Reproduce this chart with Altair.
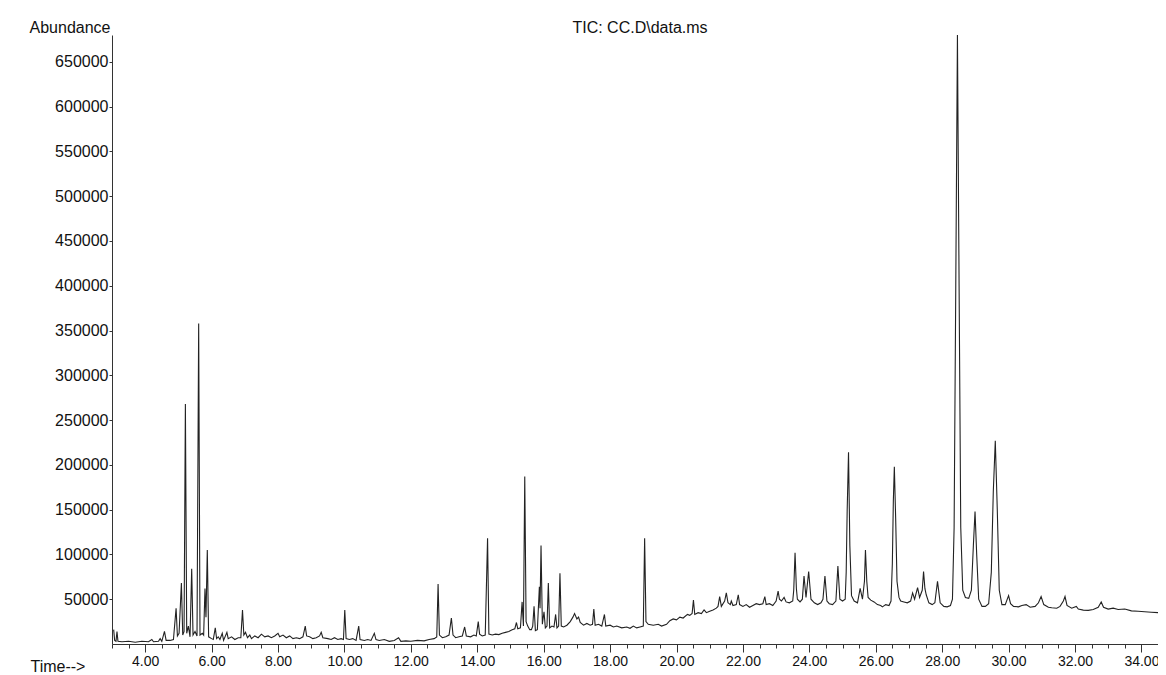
import altair as alt
import pandas as pd

# Retention time (min) and abundance
times = [
    3.05, 3.08, 3.12, 3.15, 3.18, 3.30, 3.50, 3.70, 3.90, 4.10, 4.20, 4.25, 4.40, 4.45, 4.50,
    4.58, 4.63, 4.75, 4.85, 4.93, 4.97, 5.02, 5.09, 5.13, 5.17, 5.21, 5.25, 5.30, 5.35, 5.40,
    5.44, 5.50, 5.56, 5.61, 5.65, 5.72, 5.76, 5.80, 5.83, 5.87, 5.91, 6.00, 6.05, 6.11, 6.15,
    6.20, 6.25, 6.32, 6.36, 6.46, 6.50, 6.60, 6.70, 6.80, 6.88, 6.93, 6.97, 7.02, 7.08, 7.15,
    7.20, 7.30, 7.40, 7.50, 7.60, 7.70, 7.80, 7.90, 8.00, 8.05, 8.15, 8.25, 8.35, 8.45, 8.55,
    8.65, 8.75, 8.82, 8.86, 8.95, 9.05, 9.15, 9.25, 9.30, 9.35, 9.50, 9.60, 9.70, 9.80, 9.90,
    9.97, 10.01, 10.05, 10.15, 10.25, 10.35, 10.43, 10.47, 10.60, 10.70, 10.80, 10.90, 10.95,
    11.05, 11.20, 11.35, 11.50, 11.63, 11.70, 11.85, 12.00, 12.20, 12.40, 12.55, 12.70, 12.78,
    12.82, 12.86, 12.95, 13.05, 13.15, 13.22, 13.27, 13.35, 13.45, 13.55, 13.62, 13.67, 13.80,
    13.90, 13.97, 14.03, 14.07, 14.15, 14.24, 14.31, 14.35, 14.45, 14.55, 14.65, 14.75, 14.85,
    14.95, 15.05, 15.13, 15.18, 15.22, 15.30, 15.35, 15.39, 15.43, 15.47, 15.52, 15.58, 15.63,
    15.67, 15.71, 15.75, 15.81, 15.87, 15.89, 15.92, 15.96, 16.01, 16.05, 16.10, 16.14, 16.18,
    16.25, 16.31, 16.36, 16.40, 16.45, 16.49, 16.53, 16.60, 16.70, 16.80, 16.88, 16.93, 17.00,
    17.05, 17.10, 17.20, 17.30, 17.40, 17.47, 17.51, 17.55, 17.65, 17.75, 17.83, 17.87, 18.00,
    18.10, 18.20, 18.35, 18.50, 18.60, 18.70, 18.80, 18.90, 19.00, 19.04, 19.08, 19.15, 19.30,
    19.45, 19.55, 19.70, 19.80, 19.90, 20.00, 20.10, 20.20, 20.33, 20.40, 20.47, 20.51, 20.55,
    20.65, 20.75, 20.83, 20.90, 21.00, 21.10, 21.20, 21.25, 21.30, 21.35, 21.45, 21.50, 21.55,
    21.62, 21.65, 21.70, 21.80, 21.86, 21.90, 22.00, 22.10, 22.20, 22.30, 22.40, 22.50, 22.60,
    22.66, 22.70, 22.80, 22.90, 23.00, 23.06, 23.10, 23.16, 23.24, 23.30, 23.40, 23.50, 23.53,
    23.57, 23.61, 23.64, 23.72, 23.79, 23.84, 23.90, 23.98, 24.05, 24.15, 24.25, 24.35, 24.41,
    24.47, 24.53, 24.60, 24.70, 24.80, 24.86, 24.92, 25.00, 25.08, 25.11, 25.14, 25.18, 25.22,
    25.27, 25.35, 25.45, 25.53, 25.60, 25.66, 25.69, 25.73, 25.77, 25.85, 25.95, 26.05, 26.15,
    26.20, 26.30, 26.40, 26.46, 26.50, 26.53, 26.56, 26.60, 26.64, 26.70, 26.75, 26.85, 26.95,
    27.05, 27.11, 27.17, 27.26, 27.32, 27.40, 27.44, 27.48, 27.52, 27.60, 27.70, 27.78, 27.86,
    27.94, 28.05, 28.15, 28.25, 28.31, 28.36, 28.41, 28.46, 28.51, 28.56, 28.62, 28.70, 28.80,
    28.88, 28.94, 28.99, 29.04, 29.10, 29.20, 29.30, 29.40, 29.48, 29.54, 29.60, 29.66, 29.72,
    29.80, 29.90, 30.00, 30.06, 30.15, 30.30, 30.40, 30.53, 30.65, 30.80, 30.90, 30.98, 31.06,
    31.20, 31.30, 31.45, 31.55, 31.65, 31.70, 31.76, 31.90, 32.04, 32.10, 32.25, 32.40, 32.55,
    32.70, 32.79, 32.86, 33.00, 33.15, 33.30, 33.50, 33.70, 33.90, 34.10, 34.30, 34.50, 34.80,
]
abundance = [
    16000, 4000, 3000, 14000, 3000, 2500, 3000, 2000, 3000, 2500, 5000, 2500, 3000, 6000, 3000,
    14000, 4000, 4000, 5000, 40000, 9000, 12000, 68000, 10000, 14000, 268000, 12000, 20000, 8000, 84000,
    10000, 14000, 9000, 358000, 10000, 12000, 10000, 62000, 30000, 105000, 8000, 6000, 5000, 18000, 6000,
    8000, 5000, 12000, 4000, 13000, 6000, 8000, 5000, 7000, 7000, 38000, 10000, 13000, 7000, 10000,
    6000, 9000, 7000, 11000, 8000, 9000, 7000, 9000, 12000, 8000, 10000, 7000, 9000, 6000, 7000,
    6000, 8000, 20000, 9000, 8000, 6000, 7000, 9000, 13000, 7000, 6000, 5000, 7000, 5000, 6000,
    5000, 38000, 6000, 5000, 6000, 4000, 20000, 5000, 4000, 5000, 4000, 12000, 5000,
    4000, 5000, 3000, 4000, 7000, 3000, 3500, 3000, 4000, 3500, 5000, 6000, 8000,
    67000, 10000, 7000, 8000, 10000, 29000, 10000, 7000, 8000, 9000, 19000, 9000, 8000,
    10000, 9000, 25000, 11000, 9000, 10000, 118000, 11000, 10000, 11000, 10500, 12000, 13000,
    14000, 16000, 17000, 24000, 17000, 18000, 47000, 20000, 187000, 25000, 20000, 16000, 16000,
    20000, 42000, 15000, 16000, 64000, 40000, 110000, 22000, 36000, 18000, 20000, 68000, 18000,
    20000, 19000, 33000, 18000, 20000, 79000, 20000, 19000, 21000, 25000, 30000, 34000, 28000,
    30000, 24000, 21000, 23000, 21000, 22000, 39000, 21000, 22000, 20000, 33000, 20000, 21000,
    19000, 20000, 18000, 19000, 17500, 20000, 18000, 19000, 20000, 118000, 25000, 22000, 21000,
    22000, 20000, 22000, 26000, 28000, 27000, 30000, 29000, 33000, 32000, 34000, 49000, 33000,
    35000, 34000, 38000, 35000, 36500, 38000, 40000, 42000, 53000, 42000, 48000, 57000, 46000,
    44000, 48000, 43000, 44000, 55000, 44000, 42000, 44000, 41000, 43000, 45000, 44000, 45000,
    53000, 44000, 45000, 43000, 48000, 59000, 50000, 48000, 52000, 47000, 46000, 48000, 60000,
    102000, 62000, 50000, 47000, 50000, 76000, 52000, 81000, 50000, 46000, 44000, 46000, 50000,
    76000, 48000, 45000, 44000, 48000, 87000, 50000, 48000, 50000, 80000, 150000, 214000, 110000,
    54000, 48000, 46000, 62000, 50000, 70000, 105000, 70000, 52000, 49000, 47000, 44000, 43000,
    41500, 44000, 43000, 48000, 90000, 160000, 198000, 140000, 70000, 52000, 48000, 47000, 46000,
    48000, 57000, 50000, 63000, 52000, 60000, 81000, 62000, 55000, 46000, 44000, 46000, 70000,
    46000, 42000, 41500, 43000, 50000, 130000, 400000, 680000, 400000, 130000, 60000, 52000, 51000,
    60000, 110000, 148000, 100000, 50000, 42000, 42000, 45000, 80000, 170000, 227000, 150000, 60000,
    44000, 44000, 54000, 45000, 42000, 41500, 43000, 44000, 41000, 42000, 46000, 53000, 44000,
    41000, 40400, 40000, 42000, 48000, 53000, 43000, 40000, 42000, 39000, 37800, 37500, 38500,
    41000, 47000, 41000, 39000, 40000, 38500, 39000, 37000, 36500, 36000, 35500, 35000, 35000,
]

minor_ticks = [3.0 + 0.5 * i for i in range(64)]
major_ticks = [4 + 2 * i for i in range(16)]
y_ticks = [50000 * i for i in range(1, 14)]

df = pd.DataFrame({"time": times, "abundance": abundance})

FONT = "Liberation Sans"
x_scale = alt.Scale(domain=[3.0, 34.5], nice=False, zero=False)
y_scale = alt.Scale(domain=[0, 680000], nice=False, zero=True)

y_axis = alt.Axis(values=y_ticks, format="d", tickSize=3, labelPadding=1,
                  labelFontSize=16, labelFont=FONT, labelColor="#111",
                  tickColor="#333", domainColor="#333", grid=False,
                  title="Abundance", titleFont=FONT, titleFontSize=16,
                  titleFontWeight="normal", titleColor="#111", titleAngle=0,
                  titleAlign="right", titleBaseline="alphabetic",
                  titleX=-2, titleY=-3)

base = alt.Chart(df)

minor_layer = base.mark_line(strokeOpacity=0, clip=True).encode(
    x=alt.X("time:Q", scale=x_scale,
            axis=alt.Axis(orient="bottom", values=minor_ticks, labels=False, title=None,
                          tickSize=4, tickColor="#333", domainColor="#333", grid=False)),
    y=alt.Y("abundance:Q", scale=y_scale, axis=y_axis),
)

main_layer = base.mark_line(color="#222", strokeWidth=1.1, clip=True).encode(
    x=alt.X("time:Q", scale=x_scale,
            axis=alt.Axis(orient="bottom", values=major_ticks, format=".2f", tickSize=8,
                          tickColor="#333", domain=False, grid=False, labelFontSize=14,
                          labelPadding=2, labelColor="#111", labelFont=FONT,
                          title="Time-->", titleFont=FONT, titleFontSize=16,
                          titleFontWeight="normal", titleColor="#111",
                          titleAlign="left", titleBaseline="alphabetic",
                          titleX=-82, titleY=27)),
    y=alt.Y("abundance:Q", scale=y_scale, axis=y_axis),
)

chart = alt.layer(minor_layer, main_layer).resolve_axis(x="independent").properties(
    width=1046,
    height=609,
    padding={"left": 104, "top": 27, "right": 0, "bottom": 31},
    autosize=alt.AutoSizeParams(type="none"),
    background="white",
    title=alt.TitleParams("TIC: CC.D\\data.ms", font=FONT, fontSize=16, fontWeight="normal",
                          color="#111", anchor="middle", frame="group", offset=4,
                          dx=5, dy=21),
).configure_view(stroke=None)

chart.save("out.html", embed_options={"renderer": "svg", "actions": False})
